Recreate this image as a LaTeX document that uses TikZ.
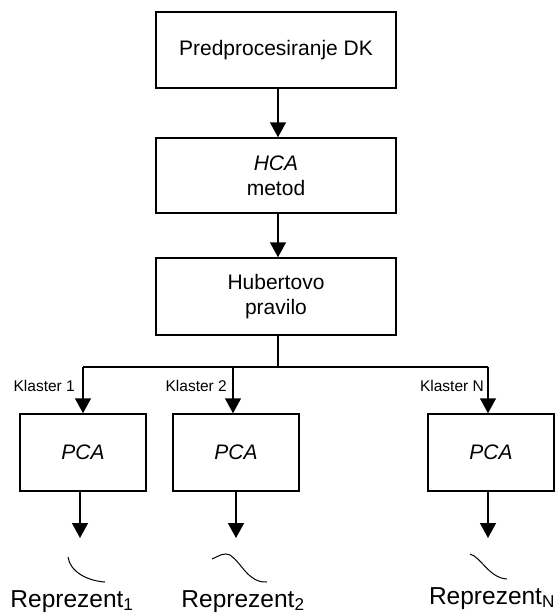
\documentclass[tikz,border=0pt]{standalone}
\usepackage{fontspec}
\setmainfont{Liberation Sans}
\usetikzlibrary{arrows.meta}
\begin{document}
\begin{tikzpicture}[x=1pt,y=-1pt,
  box/.style={draw, line width=1.5pt, inner sep=0pt, align=center,
    font=\fontsize{21}{25}\selectfont},
  conn/.style={line width=1.5pt},
  arr/.style={line width=1.5pt, -{Triangle[length=15pt,width=16pt]}},
  lbl/.style={font=\fontsize{15.5}{18}\selectfont, anchor=east, inner sep=0pt},
  rep/.style={font=\fontsize{24.5}{28}\selectfont, anchor=base, inner sep=0pt},
  wave/.style={line width=1pt}]
\useasboundingbox (0,0) rectangle (560,614);
% main chain
\node[box, minimum width=240pt, minimum height=76pt] (pre) at (276,50) {Predprocesiranje DK};
\node[box, minimum width=240pt, minimum height=75pt] (hca) at (276,175.5) {\textit{HCA}\\metod};
\node[box, minimum width=240pt, minimum height=77pt] (hub) at (276,296.5) {Hubertovo\\pravilo};
% PCA boxes
\node[box, minimum width=126pt, minimum height=77pt] (pa) at (83,452.5) {\textit{PCA}};
\node[box, minimum width=126pt, minimum height=77pt] (pb) at (236,452.5) {\textit{PCA}};
\node[box, minimum width=126pt, minimum height=77pt] (pc) at (491,452.5) {\textit{PCA}};
% arrows in chain
\draw[arr] (pre.south -| 278,0) -- (hca.north -| 278,0);
\draw[arr] (hca.south -| 278,0) -- (hub.north -| 278,0);
% bus
\coordinate (stem) at (278,367);
\coordinate (k1) at (83,367);
\coordinate (k2) at (233,367);
\coordinate (kn) at (488,367);
\draw[conn] (hub.south -| stem) -- (stem);
\draw[conn] (k1) -- (kn);
\draw[arr] (k1) -- (k1 |- pa.north);
\draw[arr] (k2) -- (k2 |- pb.north);
\draw[arr] (kn) -- (kn |- pc.north);
% cluster labels
\node[lbl] (l1) at (75,386) {Klaster 1};
\node[lbl] (l2) at (227,386) {Klaster 2};
\node[lbl] (ln) at (484,386) {Klaster N};
% outputs
\coordinate (o1) at (80,538);
\coordinate (o2) at (236,538);
\coordinate (on) at (488,538);
\draw[arr] (o1 |- pa.south) -- (o1);
\draw[arr] (o2 |- pb.south) -- (o2);
\draw[arr] (on |- pc.south) -- (on);
% curves
\draw[wave] (68,557) .. controls (70,572) and (88,581) .. (105,582);
\draw[wave] (212,559) .. controls (219,556) and (224,552) .. (230,555)
  .. controls (242,563) and (248,583) .. (267,582);
\draw[wave] (470,554) .. controls (481,557) and (489,578) .. (507,579);
% representative labels
\node[rep] (r1) at (72,607) {Reprezent\textsubscript{1}};
\node[rep] (r2) at (243,607) {Reprezent\textsubscript{2}};
\node[rep] (rn) at (492,604) {Reprezent\textsubscript{N}};
\end{tikzpicture}
\end{document}
